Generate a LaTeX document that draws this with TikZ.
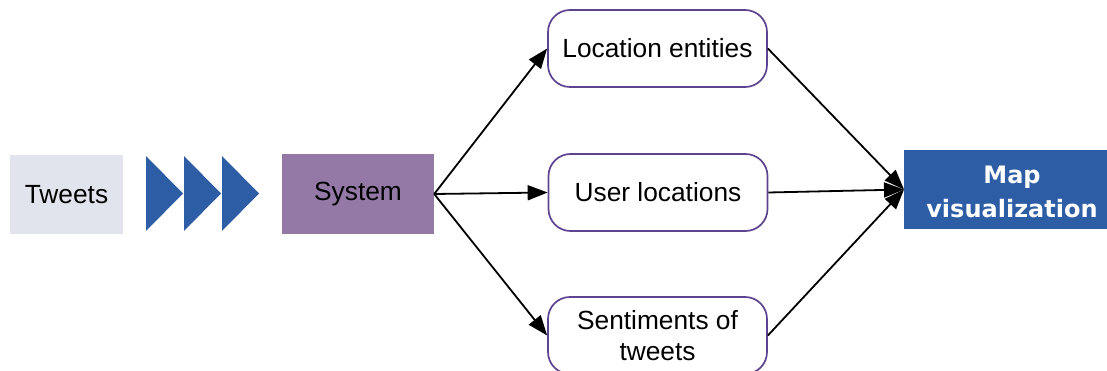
\documentclass[tikz,border=0pt]{standalone}
\usepackage{fontspec}
\setmainfont{Liberation Sans}
\newfontfamily\mapfont{DejaVu Sans}
\usetikzlibrary{arrows.meta}

\definecolor{tweetgrey}{HTML}{E1E4EC}
\definecolor{sysviolet}{HTML}{9479A6}
\definecolor{deepblue}{HTML}{2C5DA5}
\definecolor{boxline}{HTML}{5E4390}

\tikzset{
  basefont/.style={font=\fontsize{26.3}{31}\selectfont},
  flatbox/.style={basefont, draw=none, inner sep=0pt, align=center},
  roundbox/.style={basefont, draw=boxline, line width=1.7pt, fill=white,
    rounded corners=22pt, minimum width=219pt, minimum height=77pt,
    inner sep=0pt, align=center},
  chevron/.style={fill=deepblue, draw=none},
  link/.style={line width=1.8pt, -{Triangle[length=20pt,width=15pt]}},
}

\begin{document}
\begin{tikzpicture}[x=1pt,y=-1pt]
  \useasboundingbox (0,0) rectangle (1107,371);
  \clip (0,0) rectangle (1107,371);

  % input and system blocks
  \node[flatbox, fill=tweetgrey, minimum width=113pt, minimum height=79pt]
    (tweets) at (66.5,194.5) {Tweets};
  \node[flatbox, fill=sysviolet, minimum width=152pt, minimum height=80pt]
    (system) at (358,194) {System};

  % three chevrons between them
  \fill[chevron] (146,156) -- (183,193.5) -- (146,231) -- cycle;
  \fill[chevron] (184,156) -- (221,193.5) -- (184,231) -- cycle;
  \fill[chevron] (222,156) -- (259,193.5) -- (222,231) -- cycle;

  % extracted outputs
  \node[roundbox] (loc)  at (657.5,48.5)  {Location entities};
  \node[roundbox] (user) at (658,192.5)   {User locations};
  \node[roundbox] (sent) at (657.5,335.5) {Sentiments of\\tweets};

  % final visualisation block
  \node[flatbox, fill=deepblue, minimum width=216pt, minimum height=79pt]
    (map) at (1012,189.5) {};
  \node[flatbox, text=white, font=\mapfont\bfseries\fontsize{24}{34}\selectfont]
    (maptext) at (1012,191.5) {Map\\visualization};

  % connectors
  \coordinate (sysout) at (system.east);
  \coordinate (mapin) at (904,189.5);
  \draw[link] (sysout) -- (loc.west);
  \draw[link] (sysout) -- (user.west);
  \draw[link] (sysout) -- (sent.west);
  \draw[link] (loc.east)  -- (mapin);
  \draw[link] (user.east) -- (mapin);
  \draw[link] (sent.east) -- (mapin);
\end{tikzpicture}
\end{document}
